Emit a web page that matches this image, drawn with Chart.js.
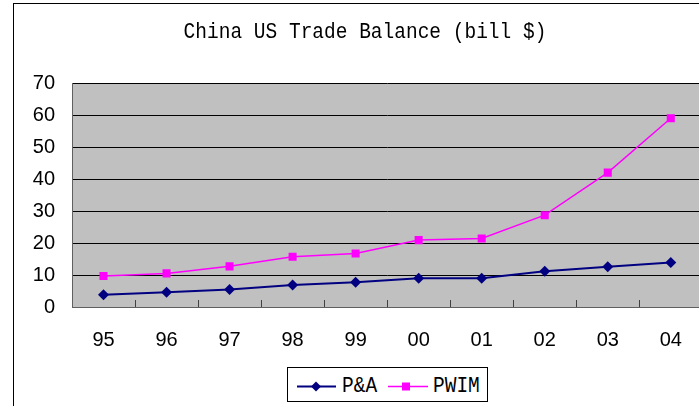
<!DOCTYPE html>
<html>
<head>
<meta charset="utf-8">
<script src="https://cdn.jsdelivr.net/npm/chart.js@4"></script>
<style>
  html, body { margin: 0; padding: 0; width: 699px; height: 406px; overflow: hidden; background: #fff; }
  #wrap { position: relative; width: 699px; height: 406px; overflow: hidden; }
  #frame { position: absolute; left: 13px; top: 3px; width: 800px; height: 600px; border: 1px solid #000; box-sizing: border-box; }
  #chart { position: absolute; left: 0; top: 0; }
  .mono { font-family: "Liberation Mono", "DejaVu Sans Mono", monospace; color: #000; white-space: nowrap; }
  #title { position: absolute; left: 0; width: 730px; top: 21px; text-align: center; font-size: 19.5px; line-height: 22px; transform: scaleY(1.12); }
  #legend { position: absolute; left: 287px; top: 367px; width: 201px; height: 35px; border: 1px solid #000; box-sizing: border-box; background: #fff; }
  #legend svg { position: absolute; left: 0; top: 0; }
  #legend .lt { position: absolute; top: 7px; font-size: 19.5px; line-height: 22px; transform: scaleY(1.15); }
</style>
</head>
<body>
<div id="wrap">
  <div id="frame"></div>
  <canvas id="chart" width="708" height="406"></canvas>
  <div id="title" class="mono">China US Trade Balance (bill $)</div>
  <div id="legend">
    <svg width="200" height="34" viewBox="0 0 200 34">
      <line x1="9" y1="18.5" x2="48" y2="18.5" stroke="#000080" stroke-width="2"/>
      <polygon points="28,13.5 33,18.5 28,23.5 23,18.5" fill="#000080"/>
      <line x1="100" y1="18.5" x2="140" y2="18.5" stroke="#FF00FF" stroke-width="1.5"/>
      <rect x="114" y="14.5" width="8" height="8" fill="#FF00FF"/>
    </svg>
    <span class="lt mono" style="left:54px;">P&amp;A</span>
    <span class="lt mono" style="left:145px;">PWIM</span>
  </div>
</div>
<script>
const titleText = "China US Trade Balance (bill $)";
const years = ["95", "96", "97", "98", "99", "00", "01", "02", "03", "04"];
const seriesNames = ["P&A", "PWIM"];
const paValues = [3.8, 4.6, 5.5, 6.9, 7.7, 9.0, 9.0, 11.2, 12.6, 13.9];
const pwimValues = [9.7, 10.5, 12.7, 15.7, 16.7, 20.9, 21.4, 28.7, 42.0, 59.0];
const yTicks = [0, 10, 20, 30, 40, 50, 60, 70];

const plotBg = {
  id: 'plotBg',
  beforeDraw(chart) {
    const { ctx, chartArea: a } = chart;
    ctx.save();
    ctx.fillStyle = '#C0C0C0';
    ctx.fillRect(a.left, a.top, a.right - a.left, a.bottom - a.top);
    ctx.restore();
  },
  beforeDatasetsDraw(chart) {
    const { ctx, chartArea: a } = chart;
    const xs = chart.scales.x;
    ctx.save();
    ctx.strokeStyle = '#404040';
    ctx.lineWidth = 1;
    ctx.beginPath();
    for (let i = 1; i < years.length; i++) {
      const x = Math.round((xs.getPixelForValue(i - 1) + xs.getPixelForValue(i)) / 2) + 0.5;
      ctx.moveTo(x, a.bottom - 7);
      ctx.lineTo(x, a.bottom);
    }
    ctx.stroke();
    ctx.restore();
  }
};

new Chart(document.getElementById('chart'), {
  type: 'line',
  data: {
    labels: years,
    datasets: [
      {
        label: seriesNames[0],
        data: paValues,
        borderColor: '#000080',
        backgroundColor: '#000080',
        borderWidth: 2,
        pointStyle: 'rectRot',
        pointRadius: 5.5,
        pointHoverRadius: 5.5,
        pointBorderWidth: 0,
        tension: 0
      },
      {
        label: seriesNames[1],
        data: pwimValues,
        borderColor: '#FF00FF',
        backgroundColor: '#FF00FF',
        borderWidth: 1.5,
        pointStyle: 'rect',
        pointRadius: 5.7,
        pointHoverRadius: 5.7,
        pointBorderWidth: 0,
        tension: 0
      }
    ]
  },
  options: {
    responsive: false,
    animation: false,
    events: [],
    layout: { padding: { left: 0, top: 83, right: 1, bottom: 39 } },
    plugins: {
      legend: { display: false },
      title: { display: false },
      tooltip: { enabled: false }
    },
    scales: {
      x: {
        type: 'category',
        offset: true,
        grid: { display: false, drawTicks: false },
        border: { display: true, color: '#606060', width: 1 },
        ticks: {
          color: '#000',
          padding: 21,
          maxRotation: 0,
          font: { family: '"Liberation Sans", Arial, sans-serif', size: 20 }
        },
        afterFit(scale) { scale.height = 60; }
      },
      y: {
        min: 0,
        max: 70,
        afterBuildTicks(scale) { scale.ticks = yTicks.map(v => ({ value: v })); },
        grid: { color: '#000', lineWidth: 1, drawTicks: false },
        border: { display: true, color: '#606060', width: 1 },
        ticks: {
          color: '#000',
          padding: 17,
          font: { family: '"Liberation Sans", Arial, sans-serif', size: 20 }
        },
        afterFit(scale) { scale.width = 72; }
      }
    }
  },
  plugins: [plotBg]
});
</script>
</body>
</html>
